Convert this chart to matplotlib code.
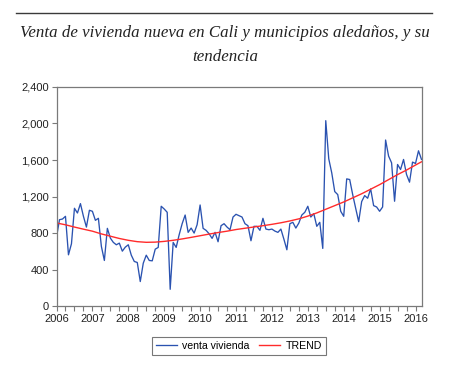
import numpy as np
import matplotlib
matplotlib.use("Agg")
import matplotlib.pyplot as plt
from matplotlib.ticker import FuncFormatter, MultipleLocator, FixedLocator

# Monthly data, 2006M01 .. 2016M03
venta = [755, 946, 953, 983, 561, 682, 1071, 1019, 1122, 983, 865, 1049,
         1038, 939, 961, 653, 499, 851, 744, 697, 671, 689, 601, 645,
         671, 557, 488, 477, 268, 469, 557, 499, 495, 623, 642, 1093,
         1063, 1027, 183, 697, 642, 781, 902, 997, 807, 854, 799, 891,
         1107, 851, 829, 792, 741, 807, 704, 880, 902, 865, 836, 975,
         1005, 990, 975, 902, 880, 715, 873, 873, 829, 961, 843, 836,
         843, 821, 807, 843, 733, 616, 902, 917, 854, 909, 997, 1027,
         1093, 975, 1012, 873, 917, 631, 2031, 1613, 1459, 1254, 1221, 1038,
         983, 1393, 1386, 1221, 1071, 924, 1144, 1210, 1181, 1283, 1100, 1085,
         1038, 1085, 1819, 1643, 1569, 1148, 1551, 1496, 1606, 1441, 1357, 1577,
         1562, 1701, 1606]

# Trend read at quarterly points (month index) and last month
trend_idx = [0, 3, 6, 9, 12, 15, 18, 21, 24, 27, 30, 33, 36, 39, 42, 45, 48,
             51, 54, 57, 60, 63, 66, 69, 72, 75, 78, 81, 84, 87, 90, 93, 96,
             99, 102, 105, 108, 111, 114, 117, 120, 122]
trend = [910, 890, 865, 842, 820, 790, 765, 740, 720, 705, 698, 700, 708,
         720, 735, 752, 770, 788, 805, 820, 838, 852, 866, 880, 895, 912,
         932, 955, 985, 1020, 1060, 1100, 1140, 1185, 1230, 1280, 1330,
         1385, 1440, 1490, 1545, 1580]

years = ["2006", "2007", "2008", "2009", "2010", "2011", "2012",
         "2013", "2014", "2015", "2016"]
yticks = [0, 400, 800, 1200, 1600, 2000, 2400]

title = "Venta de vivienda nueva en Cali y municipios aledaños, y su\ntendencia"

W, H = 450, 366
fig = plt.figure(figsize=(W / 100, H / 100), dpi=100)

# top rule
fig.add_artist(plt.Line2D([16 / W, 432 / W], [1 - 13.3 / H, 1 - 13.3 / H],
                          color="#3a3a3a", lw=1.0))

fig.text(0.5, 1 - 45 / H, title, ha="center", va="center",
         family="Liberation Serif", style="italic", fontsize=12.2,
         color="#222222", linespacing=1.6)

ax = fig.add_axes([56.5 / W, 1 - 306 / H, 365 / W, 219 / H])
x = np.arange(len(venta))
ax.plot(x, venta, color="#2a52b0", lw=0.95, label="venta vivienda")
ax.plot(trend_idx, trend, color="#ff2b2b", lw=1.0, label="TREND")

ax.set_xlim(0, len(venta) - 1)
ax.set_ylim(0, 2400)
ax.yaxis.set_major_locator(FixedLocator(yticks))
ax.yaxis.set_major_formatter(FuncFormatter(lambda v, p: f"{int(v):,}"))
ax.set_xticks([12 * k for k in range(len(years))])
ax.set_xticklabels(years)
ax.xaxis.set_minor_locator(MultipleLocator(3))

for s in ax.spines.values():
    s.set_color("#7a7a7a")
    s.set_linewidth(0.9)
ax.tick_params(axis="both", which="both", direction="out", length=3.5,
               width=0.8, color="#7a7a7a", labelsize=8, labelcolor="#222222")
ax.tick_params(axis="y", pad=2)
ax.tick_params(axis="x", pad=2)
for lab in ax.get_xticklabels() + ax.get_yticklabels():
    lab.set_family("Liberation Sans")

leg = ax.legend(loc="center", bbox_to_anchor=(0.5, -0.183), ncol=2,
                frameon=True, fancybox=False,
                handlelength=2.0, columnspacing=0.9, handletextpad=0.5,
                borderpad=0.35, prop={"family": "Liberation Sans", "size": 7.6})
leg.get_frame().set_edgecolor("#555555")
leg.get_frame().set_linewidth(0.8)

fig.savefig("out.png", dpi=100)
